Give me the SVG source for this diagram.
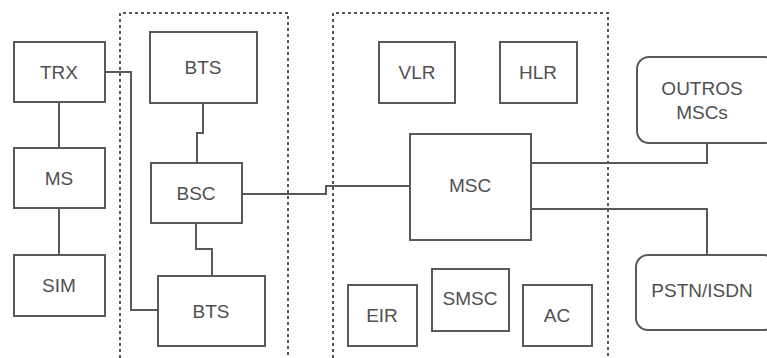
<svg xmlns="http://www.w3.org/2000/svg" width="767" height="358" viewBox="0 0 767 358">
<style>
.box{fill:#fff;stroke:#595959;stroke-width:2}
.dash{fill:none;stroke:#555;stroke-width:2;stroke-dasharray:3 3}
.ln{fill:none;stroke:#595959;stroke-width:2}
text{font-family:"Liberation Sans",Arial,sans-serif;font-size:19px;fill:#505050;text-anchor:middle}
</style>
<rect width="767" height="358" fill="#fff"/>
<g id="zones">
<path class="dash" d="M120,358 V13 H288 V358"/>
<path class="dash" d="M333,358 V13 H608 V358"/>
</g>
<g id="connectors">
<path class="ln" d="M59,102 V148"/>
<path class="ln" d="M59,208 V255"/>
<path class="ln" d="M105,72 H131 V310 H158"/>
<path class="ln" d="M203,103 V133 H197 V163"/>
<path class="ln" d="M196,223 V249 H212 V276"/>
<path class="ln" d="M242,194 H326 V186 H410"/>
<path class="ln" d="M531,163 H707 V143"/>
<path class="ln" d="M531,209 H707 V255"/>
</g>
<g id="TRX"><rect class="box" x="14" y="42" width="91" height="60"/><text x="59" y="79">TRX</text></g>
<g id="MS"><rect class="box" x="14" y="148" width="91" height="60"/><text x="59" y="185">MS</text></g>
<g id="SIM"><rect class="box" x="14" y="255" width="91" height="61"/><text x="59" y="292">SIM</text></g>
<g id="BTS1"><rect class="box" x="150" y="32" width="107" height="71"/><text x="203" y="74">BTS</text></g>
<g id="BSC"><rect class="box" x="151" y="163" width="91" height="60"/><text x="196" y="200">BSC</text></g>
<g id="BTS2"><rect class="box" x="158" y="276" width="107" height="70"/><text x="211" y="318">BTS</text></g>
<g id="VLR"><rect class="box" x="379" y="42" width="76" height="61"/><text x="417" y="79">VLR</text></g>
<g id="HLR"><rect class="box" x="500" y="42" width="77" height="61"/><text x="538" y="79">HLR</text></g>
<g id="MSC"><rect class="box" x="410" y="134" width="121" height="106"/><text x="470" y="192">MSC</text></g>
<g id="EIR"><rect class="box" x="348" y="285" width="69" height="61"/><text x="382" y="322">EIR</text></g>
<g id="SMSC"><rect class="box" x="432" y="269" width="77" height="62"/><text x="470" y="305">SMSC</text></g>
<g id="AC"><rect class="box" x="523" y="285" width="69" height="61"/><text x="557" y="322">AC</text></g>
<g id="OUTROS"><rect class="box" x="637" y="57" width="140" height="86" rx="12"/><text x="702" y="95">OUTROS</text><text x="702" y="119">MSCs</text></g>
<g id="PSTN"><rect class="box" x="636" y="255" width="140" height="75" rx="12"/><text x="702" y="297">PSTN/ISDN</text></g>
</svg>
